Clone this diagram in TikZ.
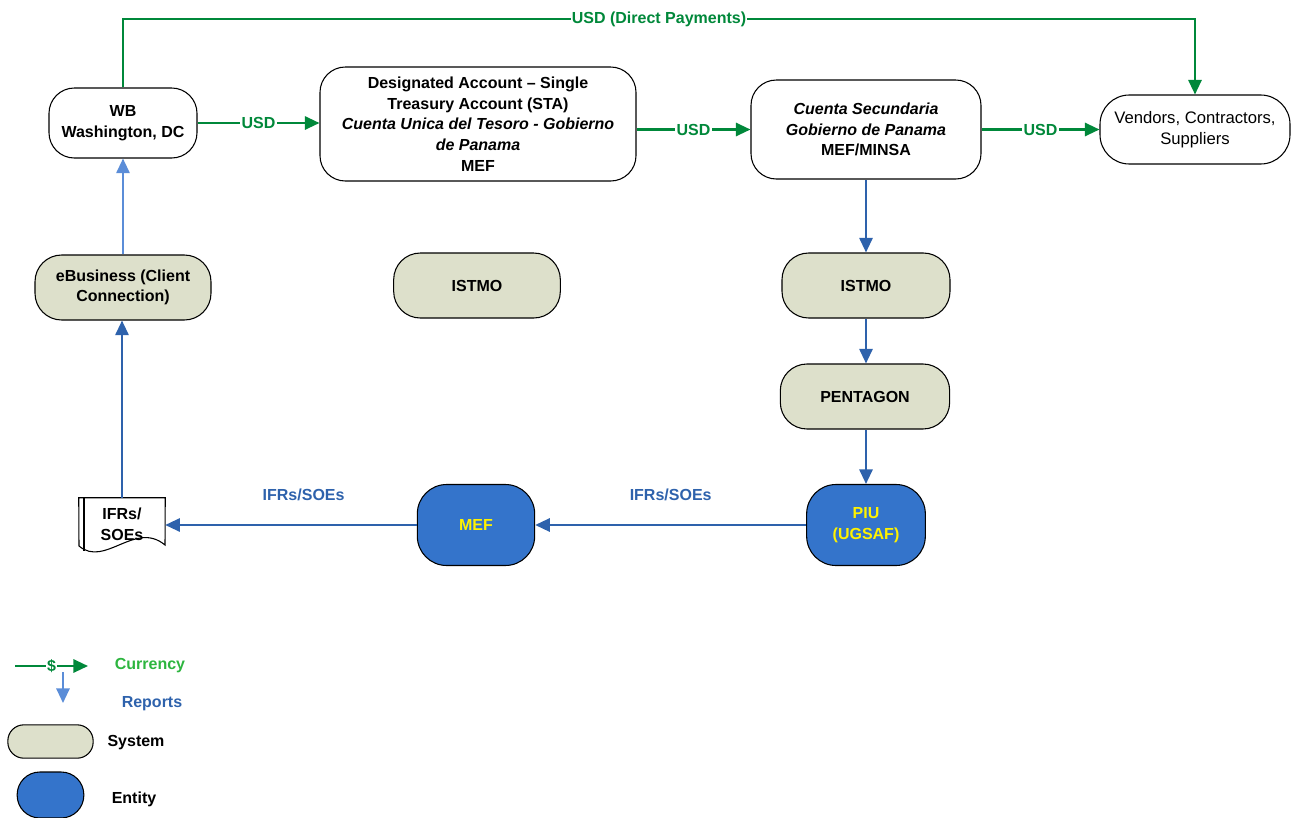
\documentclass[tikz,border=0pt]{standalone}
\usepackage{fontspec}
\setmainfont{Liberation Sans}
\usepackage{xcolor}
\usetikzlibrary{arrows.meta, positioning, calc}

\definecolor{usdgreen}{HTML}{00883A}
\definecolor{curgreen}{HTML}{2DB53F}
\definecolor{repblue}{HTML}{2E62AC}
\definecolor{lightrep}{HTML}{5B8DD8}
\definecolor{sysfill}{HTML}{DDE0CB}
\definecolor{entfill}{HTML}{3474CB}

\begin{document}
\begin{tikzpicture}[
  x=0.75pt, y=-0.75pt,
  font=\bfseries\fontsize{12}{15.5}\selectfont,
  acct/.style={rectangle, rounded corners=19pt, draw=black, line width=0.8pt,
               fill=white, align=center, inner sep=2pt},
  sys/.style={rectangle, rounded corners=20pt, draw=black, line width=0.8pt,
              fill=sysfill, align=center, inner sep=2pt, minimum height=48.75pt},
  ent/.style={rectangle, rounded corners=22pt, draw=black, line width=0.8pt,
              fill=entfill, text=yellow, align=center, inner sep=2pt,
              minimum width=88pt, minimum height=60.75pt},
  usd/.style={draw=usdgreen, line width=1.6pt, -{Triangle[length=11pt, width=10pt]}},
  rep/.style={draw=repblue, line width=1.5pt, -{Triangle[length=11pt, width=10pt]}},
  lbl/.style={fill=white, inner sep=1pt, text=usdgreen}]
  \useasboundingbox (0,0) rectangle (1297,818);

  % accounts and payees
  \node[acct, minimum width=111pt, minimum height=52.5pt] (wb) at (123,123) {WB\\Washington, DC};
  \node[acct, minimum width=237pt, minimum height=85.5pt] (sta) at (478,124)
    {Designated Account -- Single\\Treasury Account (STA)\\\textit{Cuenta Unica del Tesoro - Gobierno}\\\textit{de Panama}\\MEF};
  \node[acct, minimum width=172.5pt, minimum height=74.25pt] (cs) at (866,129.5)
    {\textit{Cuenta Secundaria}\\\textit{Gobierno de Panama}\\MEF/MINSA};
  \node[acct, rounded corners=22pt, minimum width=142.5pt, minimum height=51.75pt,
        font=\mdseries\fontsize{12.5}{16}\selectfont] (vend) at (1195,129.5)
    {Vendors, Contractors,\\Suppliers};

  % systems
  \node[sys, minimum width=132pt] (ebiz) at (123,287.5) {eBusiness (Client\\Connection)};
  \node[sys, minimum width=125pt] (istmoa) at (477,285.5) {ISTMO};
  \node[sys, minimum width=126pt] (istmob) at (866,285.5) {ISTMO};
  \node[sys, minimum width=127pt] (penta) at (865,396.5) {PENTAGON};

  % entities
  \node[ent, minimum width=89pt] (piu) at (866,525) {PIU\\(UGSAF)};
  \node[ent] (mef) at (476,525) {MEF};

  % report document
  \node[minimum width=64.5pt, minimum height=39pt, inner sep=0pt, align=center] (ifr) at (122,524)
    {IFRs/\\SOEs};
  \draw[line width=0.8pt] ($(ifr.north west)$) -- ($(ifr.north east)$) -- (165,545)
    .. controls (135,520) and (105,568) .. (79,546) -- cycle;
  \draw[line width=0.8pt] (84,498) -- (84,551);

  % currency flows
  \coordinate (dpa) at (123,19);
  \coordinate (dpb) at (1195,19);
  \draw[usd] (wb.north) -- (dpa) -- node[lbl]{USD (Direct Payments)} (dpb) -- (vend.north);
  \draw[usd] (wb) -- node[lbl]{USD} (sta.west |- wb);
  \draw[usd] (sta.east |- cs) -- node[lbl]{USD} (cs);
  \draw[usd] (cs) -- node[lbl]{USD} (vend);

  % reporting flows
  \draw[rep] (cs) -- (istmob);
  \draw[rep] (istmob) -- (penta.north -| istmob);
  \draw[rep] (penta.south -| istmob) -- (piu);
  \draw[rep] (piu) -- node[above=14pt, text=repblue]{IFRs/SOEs} (mef);
  \draw[rep] (mef) -- node[above=14pt, pos=0.45, text=repblue]{IFRs/SOEs} (ifr.east |- mef);
  \draw[rep] (ifr.north) -- (ebiz.south -| ifr.north);
  \draw[rep, draw=lightrep] (ebiz) -- (wb);

  % legend
  \coordinate (lga) at (15,666);
  \coordinate (lgb) at (88,666);
  \coordinate (lgc) at (63,672);
  \coordinate (lgd) at (63,703);
  \draw[usd] (lga) -- node[lbl, pos=0.5]{\$} (lgb);
  \draw[rep, draw=lightrep] (lgc) -- (lgd);
  \node[text=curgreen] (lgcur) at (150,666) {Currency};
  \node[text=repblue] (lgrep) at (152,704) {Reports};
  \node[sys, rounded corners=12pt, minimum width=64pt, minimum height=25pt] (lgsys) at (50.5,741.5) {};
  \node (lgsyst) at (136,743) {System};
  \node[ent, rounded corners=17pt, minimum width=50pt, minimum height=34.5pt] (lgent) at (50.5,795) {};
  \node (lgentt) at (134,799) {Entity};
\end{tikzpicture}
\end{document}
